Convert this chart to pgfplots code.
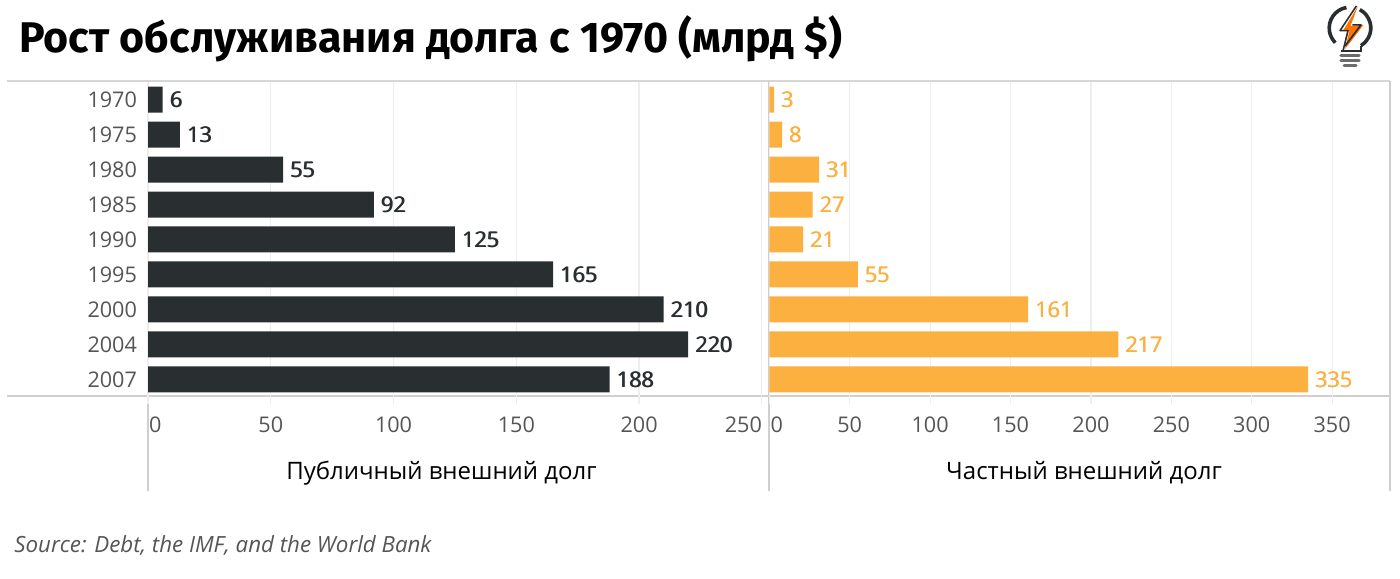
\documentclass[border=0pt]{standalone}
\usepackage{fontspec}
\setmainfont{Open Sans}
\newfontfamily\titlefont{Fira Sans}
\usepackage{pgfplots}
\usepackage{pgfplotstable}
\pgfplotsset{compat=1.18}

\definecolor{darkbar}{HTML}{292E31}
\definecolor{orangebar}{HTML}{FBB040}
\definecolor{ticktext}{HTML}{555555}
\definecolor{gridc}{HTML}{EEEEEE}
\definecolor{rulec}{HTML}{CFCFCF}

\pgfplotstableread{
idx year pub priv
0 1970 6 3
1 1975 13 8
2 1980 55 31
3 1985 92 27
4 1990 125 21
5 1995 165 55
6 2000 210 161
7 2004 220 217
8 2007 188 335
}\debt

% value labels are semibold in the reference: struck twice, no such weight here
\newcommand\strike[2]{\rlap{\kern#1\pgfmathprintnumber{#2}}\pgfmathprintnumber{#2}}

% 1 px of the reference = 0.5pt
\pgfplotsset{
  debtaxis/.style={
    scale only axis,
    height=157.5pt,
    xbar,
    bar width=13pt,
    y dir=reverse,
    ymin=-0.5, ymax=8.5,
    xmin=0,
    ytick=data,
    enlargelimits=false,
    axis line style={draw=none},
    xmajorgrids=true,
    grid style={gridc, line width=0.6pt},
    major tick length=3.5pt,
    tick align=outside,
    ytick style={draw=none},
    xtick style={gridc, line width=0.6pt},
    xtick pos=lower,
    xticklabel pos=lower,
    ticklabel style={font=\fontsize{10.8}{12}\selectfont, text=ticktext},
    x tick label style={anchor=base, yshift=-14.5pt},
    y tick label style={xshift=1.5pt},
    point meta=x,
    /pgf/number format/assume math mode=true,
    nodes near coords style={anchor=west, inner sep=0pt, xshift=3.2pt,
      font=\fontsize{10.8}{12}\selectfont},
    xlabel style={anchor=base, font=\fontsize{12}{14}\selectfont, text=black},
  }
}

\begin{document}
\begin{tikzpicture}
\path[use as bounding box] (0,0) rectangle (700pt,-289pt);

% frame rules
\draw[gridc!90!black, line width=0.9pt] (3.5pt,-40.5pt) -- (695pt,-40.5pt);
\draw[rulec, line width=0.9pt] (3.5pt,-198pt) -- (695pt,-198pt);
\draw[rulec, line width=0.7pt] (74pt,-40.5pt) -- (74pt,-245.5pt);
\draw[rulec, line width=0.8pt] (384.5pt,-40.5pt) -- (384.5pt,-245.5pt);
\draw[rulec, line width=0.7pt] (695pt,-40.5pt) -- (695pt,-245.5pt);

\begin{axis}[debtaxis,
    at={(74pt,-41pt)}, anchor=north west,
    width=309.5pt,
    xmax=252.1,
    xtick={0,50,100,150,200,250},
    xticklabels={\hspace*{1pt}\rlap{0},50,100,150,200,\llap{250}},
    yticklabels from table={\debt}{year},
    xlabel={Публичный внешний долг},
    xlabel style={at={(axis description cs:0.474,0)}, yshift=-41.5pt},
    nodes near coords={\strike{0.5pt}{\pgfplotspointmeta}},
    nodes near coords style={text=darkbar},
]
\addplot[fill=darkbar, draw=none] table[x=pub, y=idx] {\debt};
\end{axis}

\begin{axis}[debtaxis,
    at={(384.65pt,-41pt)}, anchor=north west,
    width=310.35pt,
    xmax=386,
    xtick={0,50,100,150,200,250,300,350},
    xticklabels={\hspace*{1.2pt}\rlap{0},50,100,150,200,250,300,350},
    ytick=\empty,
    xlabel={Частный внешний долг},
    xlabel style={at={(axis description cs:0.507,0)}, yshift=-41.5pt},
    nodes near coords={\strike{0.35pt}{\pgfplotspointmeta}},
    nodes near coords style={text=orangebar},
]
\addplot[fill=orangebar, draw=none] table[x=priv, y=idx] {\debt};
\end{axis}

% title and source
\node[anchor=base west, inner sep=0pt, font=\titlefont\bfseries\fontsize{21.45}{24}\selectfont]
  at (9.5pt,-26pt) {Рост обслуживания долга с 1970 (млрд \$)};
\node[anchor=base west, inner sep=0pt, text=ticktext, font=\itshape\fontsize{11.15}{13}\selectfont]
  at (7pt,-276pt) {Source: Debt, the IMF, and the World Bank};

% logo
\begin{scope}[shift={(675pt,-14pt)}]
  \draw[darkbar, line width=1.8pt] (100:10.4pt) arc (100:225:10.4pt);
  \draw[darkbar, line width=1.8pt] (62:10.4pt) arc (62:-58:10.4pt);
  \draw[darkbar, line width=1.3pt] (5.5pt,-9pt) -- (5.5pt,-11.5pt) -- (-4.5pt,-11.5pt);
  \fill[orange!90!red] (4pt,11pt) -- (0.2pt,1pt) -- (6.8pt,1.6pt) -- (-2.5pt,-10.5pt)
     -- (-0.3pt,-1.4pt) -- (-3.4pt,-1.2pt) -- cycle;
  \draw[darkbar, line width=0.8pt, line join=round] (3.2pt,11pt) -- (-5pt,-1.3pt) -- (-1pt,-1.3pt) -- (-3.4pt,-11pt);
  \draw[darkbar, line width=0.8pt, line join=round] (1.2pt,1.6pt) -- (5.5pt,1.6pt) -- (-2.5pt,-9pt);
  \foreach \yy/\ww in {-13.8/4.6,-16.2/4.6,-18.6/3}
    \draw[gray!85!black, line width=1.5pt, line cap=round] (-\ww pt,\yy pt) -- (\ww pt,\yy pt);
\end{scope}
\end{tikzpicture}
\end{document}
